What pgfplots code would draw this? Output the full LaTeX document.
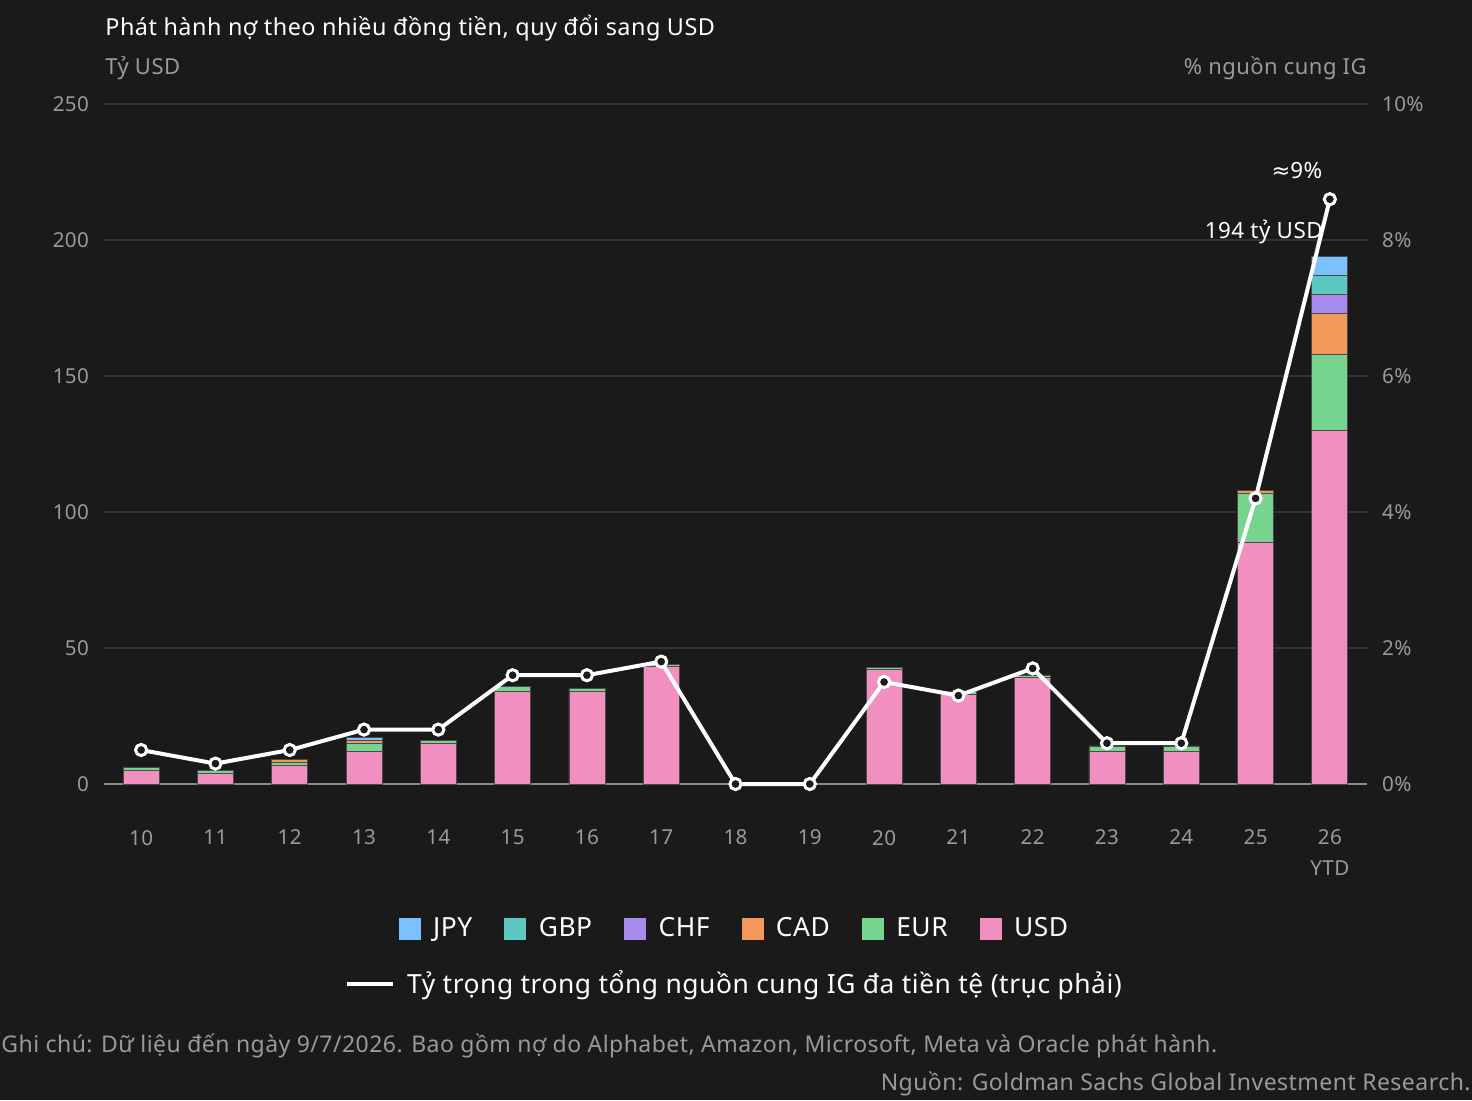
\documentclass[border=0pt]{standalone}
\usepackage{pgfplots}
\pgfplotsset{compat=1.18}
\usepackage{pgfplotstable}
\usepackage{fontspec}
\setmainfont{Noto Sans}[LetterSpace=2]
\newfontfamily\dejavu{DejaVu Sans}
\definecolor{bg}{HTML}{1A1A1A}
\definecolor{gridc}{HTML}{333333}
\definecolor{zeroc}{HTML}{8A8A8A}
\definecolor{tickc}{HTML}{9A9A9A}
\definecolor{cUSD}{HTML}{F08FC0}
\definecolor{cEUR}{HTML}{77D48E}
\definecolor{cCAD}{HTML}{F2995A}
\definecolor{cCHF}{HTML}{A78BEA}
\definecolor{cGBP}{HTML}{5CC8C0}
\definecolor{cJPY}{HTML}{7CC0FF}
\definecolor{edgec}{HTML}{4A4A4A}

\pgfplotstableread{
x USD EUR CAD CHF GBP JPY
10 4.9 1.1 0 0 0 0
11 3.9 1.1 0 0 0 0
12 7.0 1.0 1.1 0 0 0
13 11.9 3.1 0.9 0 0 1.1
14 15.0 1.0 0 0 0 0
15 34.1 1.9 0 0 0 0
16 34.1 0.9 0 0 0 0
17 43.1 0.9 0 0 0 0
18 0 0 0 0 0 0
19 0 0 0 0 0 0
20 42.2 0.8 0 0 0 0
21 33.1 0.8 0 0 0 0
22 39.2 0.9 0 0 0 0
23 12.0 2.0 0 0 0 0
24 12.0 2.0 0 0 0 0
25 89.0 18.0 1.0 0 0 0
26 130.0 28.0 15.0 7.0 7.0 7.0
}\bars

\pgfplotstableread{
x share
10 0.5
11 0.3
12 0.5
13 0.8
14 0.8
15 1.6
16 1.6
17 1.8
18 0
19 0
20 1.5
21 1.3
22 1.7
23 0.6
24 0.6
25 4.2
26 8.6
}\share

\begin{document}
\begin{tikzpicture}
\fill[bg] (0,0) rectangle (736pt,550pt);
\begin{axis}[
  at={(52pt,158pt)}, anchor=south west,
  scale only axis, width=631.5pt, height=340pt,
  xmin=9.5, xmax=26.5, ymin=0, ymax=250,
  axis line style={draw=none},
  major tick style={draw=none},
  ytick={50,100,...,250},
  extra y ticks={0},
  extra y tick style={grid style={color=zeroc, line width=1.2pt}},
  ymajorgrids, grid style={color=gridc, line width=0.8pt},
  xtick={10,...,26},
  xticklabels={10,11,12,13,14,15,16,17,18,19,20,21,22,23,24,25,{26\\YTD}},
  xticklabel style={align=center, text=tickc, font=\fontsize{10.3}{15.5}\selectfont, yshift=-19.5pt},
  yticklabel style={text=tickc, font=\fontsize{10.3}{12}\selectfont, xshift=-4pt},
  /pgf/number format/assume math mode=true,
  ybar stacked, bar width=18pt,
  clip=false,
  reverse legend,
  legend columns=6,
  legend style={at={(0.5,-0.213)}, anchor=center, fill=none, draw=none, text=white,
    font=\fontsize{13.2}{15}\selectfont,
    /tikz/every even column/.append style={column sep=14pt}},
  legend cell align=left,
  legend image code/.code={\fill[#1,draw=none] (0pt,-5.5pt) rectangle (11pt,5.5pt); \path (15pt,0pt);},
]
\addplot[fill=cUSD, draw=edgec, line width=0.4pt] table[x=x,y=USD]{\bars};
\addlegendentry{USD}
\addplot[fill=cEUR, draw=edgec, line width=0.4pt] table[x=x,y=EUR]{\bars};
\addlegendentry{EUR}
\addplot[fill=cCAD, draw=edgec, line width=0.4pt] table[x=x,y=CAD]{\bars};
\addlegendentry{CAD}
\addplot[fill=cCHF, draw=edgec, line width=0.4pt] table[x=x,y=CHF]{\bars};
\addlegendentry{CHF}
\addplot[fill=cGBP, draw=edgec, line width=0.4pt] table[x=x,y=GBP]{\bars};
\addlegendentry{GBP}
\addplot[fill=cJPY, draw=edgec, line width=0.4pt] table[x=x,y=JPY]{\bars};
\addlegendentry{JPY}
\end{axis}

\begin{axis}[
  at={(52pt,158pt)}, anchor=south west,
  scale only axis, width=631.5pt, height=340pt,
  xmin=9.5, xmax=26.5, ymin=0, ymax=10,
  axis y line*=right, axis x line=none,
  axis line style={draw=none},
  major tick style={draw=none},
  ytick={0,2,...,10},
  yticklabel={\pgfmathprintnumber{\tick}\%},
  yticklabel style={text=tickc, font=\fontsize{10.3}{12}\selectfont, xshift=4pt},
  /pgf/number format/assume math mode=true,
  clip=false,
  legend style={at={(0.5,-0.294)}, anchor=center, fill=none, draw=none, text=white,
    font=\fontsize{13.2}{15}\selectfont},
  legend image code/.code={\draw[white, line width=2pt] (0pt,0pt) -- (23pt,0pt); \path (27pt,0pt);},
]
\addplot[white, line width=2pt, mark=*, mark size=2.8pt,
  mark options={draw=white, fill=bg, line width=1.5pt}] table[x=x,y=share]{\share};
\addlegendentry{Tỷ trọng trong tổng nguồn cung IG đa tiền tệ (trục phải)}
\end{axis}

\node[anchor=west, inner sep=0, text=white, font=\fontsize{11.7}{14}\selectfont] at (52.5pt,536pt) {Phát hành nợ theo nhiều đồng tiền, quy đổi sang USD};
\node[anchor=west, inner sep=0, text=tickc, font=\fontsize{11}{13}\selectfont] at (52.5pt,516pt) {Tỷ USD};
\node[anchor=east, inner sep=0, text=tickc, font=\fontsize{11}{13}\selectfont] at (683.5pt,516pt) {\% nguồn cung IG};
\node[anchor=center, inner sep=0, text=white, font=\fontsize{11.2}{13}\selectfont] at (648.5pt,464.5pt) {{\dejavu ≈}9\%};
\node[anchor=east, inner sep=0, text=white, font=\fontsize{11.2}{13}\selectfont] at (661.5pt,434pt) {194 tỷ USD};
\node[anchor=west, inner sep=0, text=tickc, font=\fontsize{11.5}{13}\selectfont] at (0.5pt,27pt) {Ghi chú: Dữ liệu đến ngày 9/7/2026. Bao gồm nợ do Alphabet, Amazon, Microsoft, Meta và Oracle phát hành.};
\node[anchor=east, inner sep=0, text=tickc, font=\fontsize{11.5}{13}\selectfont] at (735.5pt,8pt) {Nguồn: Goldman Sachs Global Investment Research.};
\end{tikzpicture}
\end{document}
